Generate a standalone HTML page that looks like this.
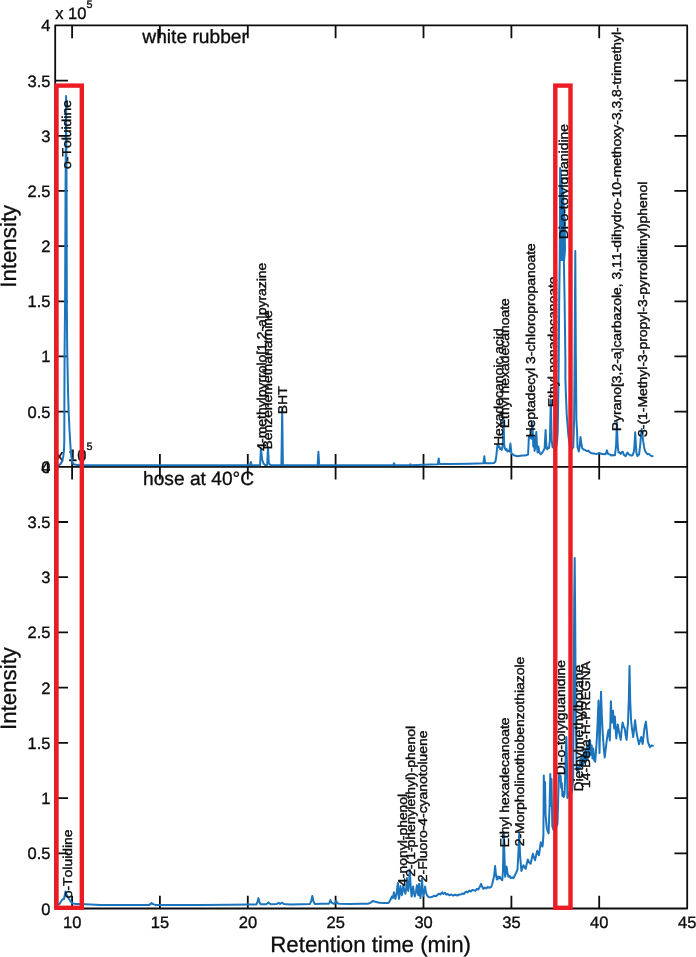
<!DOCTYPE html>
<html lang="en"><head><meta charset="utf-8"><title>Chromatograms: white rubber and hose at 40°C</title>
<style>
html,body{margin:0;padding:0;background:#fff}
body{width:696px;height:957px;overflow:hidden}
svg{display:block}
text{font-family:"Liberation Sans",Arial,Helvetica,sans-serif;fill:#0d0d0d;stroke:#0d0d0d;stroke-width:0.5px;font-kerning:none;text-rendering:geometricPrecision}
.ax{stroke:#0d0d0d;stroke-width:1.8;fill:none;stroke-linecap:butt;stroke-linejoin:round}
.tr{stroke:#1c75bc;stroke-width:2;fill:none;stroke-linejoin:round;stroke-linecap:round}
.bx{stroke:#ed1c24;stroke-width:4.4;fill:none;stroke-linejoin:miter}
.tk,.tk text{font-size:16.5px;stroke-width:0.35px}
.lb,.lb text{font-size:13.93px;stroke-width:0.45px}
.tt,.tt text{font-size:19.2px;stroke-width:0.35px}
.al,.al text{font-size:22.3px;stroke-width:0.3px}
</style></head><body>
<svg width="696" height="957" viewBox="0 0 696 957" role="img" aria-label="Chromatograms of white rubber and hose at 40°C">
<rect width="696" height="957" fill="#fff"/>
<g id="axes"><path class="ax" d="M55.2 25.4H687.2V908.5H55.2ZM55.2 466.8H687.2M72.1 25.4v12.8M72.1 454V479.6M72.1 908.5v-12.8M159.9 25.4v12.8M159.9 454V479.6M159.9 908.5v-12.8M247.8 25.4v12.8M247.8 454V479.6M247.8 908.5v-12.8M335.6 25.4v12.8M335.6 454V479.6M335.6 908.5v-12.8M423.5 25.4v12.8M423.5 454V479.6M423.5 908.5v-12.8M511.4 25.4v12.8M511.4 454V479.6M511.4 908.5v-12.8M599.2 25.4v12.8M599.2 454V479.6M599.2 908.5v-12.8M55.2 411.6h12.8M687.2 411.6h-12.8M55.2 356.4h12.8M687.2 356.4h-12.8M55.2 301.3h12.8M687.2 301.3h-12.8M55.2 246.1h12.8M687.2 246.1h-12.8M55.2 190.9h12.8M687.2 190.9h-12.8M55.2 135.8h12.8M687.2 135.8h-12.8M55.2 80.6h12.8M687.2 80.6h-12.8M55.2 853.3h12.8M687.2 853.3h-12.8M55.2 798.1h12.8M687.2 798.1h-12.8M55.2 742.9h12.8M687.2 742.9h-12.8M55.2 687.6h12.8M687.2 687.6h-12.8M55.2 632.4h12.8M687.2 632.4h-12.8M55.2 577.2h12.8M687.2 577.2h-12.8M55.2 522h12.8M687.2 522h-12.8"/></g>
<g id="yticks" class="tk" text-anchor="end">
<text x="50.4" y="472.8">0</text>
<text x="50.4" y="417.6">0.5</text>
<text x="50.4" y="362.4">1</text>
<text x="50.4" y="307.3">1.5</text>
<text x="50.4" y="252.1">2</text>
<text x="50.4" y="196.9">2.5</text>
<text x="50.4" y="141.8">3</text>
<text x="50.4" y="86.6">3.5</text>
<text x="50.4" y="31.4">4</text>
<text x="50.4" y="914.5">0</text>
<text x="50.4" y="859.3">0.5</text>
<text x="50.4" y="804.1">1</text>
<text x="50.4" y="748.9">1.5</text>
<text x="50.4" y="693.6">2</text>
<text x="50.4" y="638.4">2.5</text>
<text x="50.4" y="583.2">3</text>
<text x="50.4" y="528">3.5</text>
<text x="50.4" y="472.8">4</text>
</g>
<g id="xticks" class="tk" text-anchor="middle">
<text x="72.2" y="928.2">10</text>
<text x="160" y="928.2">15</text>
<text x="247.9" y="928.2">20</text>
<text x="335.8" y="928.2">25</text>
<text x="423.6" y="928.2">30</text>
<text x="511.5" y="928.2">35</text>
<text x="599.3" y="928.2">40</text>
<text x="687.3" y="928.2">45</text>
</g>
<text class="tk" x="55.2" y="19.4">x 10<tspan font-size="10.8px" dy="-11.3">5</tspan></text>
<text class="tk" x="55.2" y="461.2">x 10<tspan font-size="10.8px" dy="-11.3">5</tspan></text>
<text class="tt" x="142.3" y="43">white rubber</text>
<text class="tt" x="143" y="485">hose at 40°C</text>
<text class="al" text-anchor="middle" transform="translate(15.9 246.3) rotate(-90)">Intensity</text>
<text class="al" text-anchor="middle" transform="translate(15.9 688.5) rotate(-90)">Intensity</text>
<text class="al" text-anchor="middle" x="370.6" y="952.3">Retention time (min)</text>
<polyline id="trace-top" class="tr" points="57,465.2 59.5,464.8 61,463.5 62.2,461 63.3,456.5 64,450 64.3,440 64.4,400 64.6,350 65.1,300 65.5,200 66.1,96 66.6,200 66.8,300 67.2,350 68,390 68.6,410 69.5,430 70.5,447 71.3,456 72.2,462 74,464.6 80,465.2 250,465.2 250.8,461.9 251.6,465.2 260.1,465.2 260.9,448.3 261.6,455 262.3,460 263.5,463.5 265,464.9 267.2,464.9 268,447 268.8,463 269.8,464.6 271.5,465.2 281.4,465.2 282.2,409.3 282.9,465.2 317.6,465.2 318.4,451.7 319.2,465.2 393.2,465.2 394,463.2 394.8,465.2 409.7,465.2 410.5,464.2 411.3,465.2 423,464.7 437.9,464.2 438.7,458.5 439.5,464.1 450,464 470,463.7 483.5,463.3 484.3,456.3 485.1,463.2 491,463.2 494,463 495.4,461.5 496.2,457 496.9,450 497.5,444.8 498.3,447 499.2,446.2 500,449 500.9,448.2 501.6,450 502.2,448.3 502.8,445 503.5,418.5 504.2,445 504.8,447.8 505.6,450 506.5,449 507.4,451.5 508.3,450.5 509.4,451.5 510.4,443.5 511.4,453.4 512.6,454.2 513.9,455.2 517.3,456.2 522.5,455.4 525,455.6 528.1,454.5 528.9,436.2 529.8,437.9 530.7,434.5 531.5,438.8 532.4,421.5 533.3,446.5 533.9,437 534.6,450.9 535.5,446 536.3,431.9 537.1,448 537.6,452.6 538.4,446.5 539.3,452 540.6,454.3 542,453 543.4,450.7 544.6,448.5 545.6,430 546.5,448 547.3,449.3 548.2,447.5 549,448 549.9,440.3 550.8,400 551.7,440 552.5,447.2 554.5,448 556.5,446 557.2,440 557.7,431.7 558.5,380 558.7,360 559.2,300 559.7,262 559.9,240 560.1,168 560.4,259 560.8,172 561.2,260 561.6,180 562,260 562.4,187 562.8,260 563.2,192 563.6,260 564,206 564.4,258 564.7,218 565,250 563.9,262 564.6,300 565.4,360 565.4,380 566.7,414.5 568.4,436 570,446 572,449 573.3,447 574.1,420 574.7,350 575.3,251 575.8,350 576.4,420 577.1,432 577.5,447.2 578.8,451.5 579.7,446 580.5,436.9 581.3,443 582.2,448.1 583.5,449.6 584.8,449.8 586.5,451 588.3,450.7 590,452.4 591.7,453.3 594,453.5 596,454.1 599.4,453 601,453.8 602.9,453.9 605.5,454.3 606.3,452.5 607,450.4 607.6,452.5 608.1,453.9 609.8,454.4 611.5,455.6 613.3,455 615,455.2 616.1,445 616.9,422 617.7,446 618.6,452.6 619.6,452.4 620.6,453.9 621.7,452.2 622.7,451.7 624,455.2 625.7,456 626.6,454 627.5,452.6 629.2,454.7 630.9,455.6 632.6,455.2 633.9,451.7 634.5,445 635.2,432.3 635.9,445 636.5,453.4 637.6,456 639.1,454.3 640.4,443.1 641.1,434 641.7,428.9 642.4,434 643.2,441.4 644,446.5 644.7,450 646,452.6 647.7,454.3 649,453.9 650.7,455.6 652.5,456.2"/>
<polyline id="trace-bottom" class="tr" points="57,905 59.5,904 61,901.5 62.4,899.5 64,899 64.8,895 65.5,891.5 66.3,894 67.5,896.5 69,899 70.5,901.3 72.4,903.3 75,903.9 80.5,904.1 100.3,905 130.3,905 149.3,904.9 150.6,903.9 151.6,903.1 152.9,904.1 155.3,904.9 180.3,904.9 200.3,905 230.3,904.7 248.3,904.6 256.3,904.5 257.5,902 258.4,898.1 259.4,902 260.6,904.3 266.3,904.3 267.5,903.3 268.4,902.4 269.5,903.5 271.3,904.3 276.8,904.1 278.5,902.7 280.1,903.9 282.1,902.7 283.8,904.1 290.3,904.4 300.3,904.3 309.8,904.1 311.1,901.5 312.3,895.9 313.5,901.5 314.8,903.9 322.3,903.8 328.8,903.7 329.8,902 330.4,900 331.3,902.5 333.3,903.7 335.1,903.3 336.2,901 337.3,903.3 339.3,903.8 350.3,903.9 360.3,903.8 367.8,903.8 370.3,902.9 372.8,901 375.3,901.7 379.3,902.7 384.3,902.9 387.9,903.1 388.9,902.4 390.6,899.5 391.8,896.6 392.9,898 393.9,892.3 394.7,896.5 395.4,898.9 396.6,893.5 397.8,883 398.4,892.5 399,898.8 399.7,893.5 400.4,885.9 401.2,892.5 401.9,895.2 402.6,890.5 403.3,885.2 404.3,890.5 405.4,893.8 406.2,888.5 406.9,878 407.6,886.5 408.3,890.9 409.1,882.5 409.8,869.4 410.7,886.5 411.6,896.6 412.4,892.5 413.1,886.6 413.9,892.5 414.8,896.6 415.9,892.5 416.9,885.2 417.7,891.5 418.4,895.2 419.1,883.7 419.8,892.5 420.5,898.1 421.3,890.5 422,878.7 422.7,889.5 423.4,895.9 424.3,892.5 425.1,886.6 426,892.5 427,895.2 428.3,896.9 429.9,897.4 432.3,896.8 434.3,895.7 436.3,896.1 437.8,894.5 439.3,893.7 440.3,894.5 442.1,892.3 443.3,893.9 444.8,892.7 446.3,894.7 447.8,893.9 449.3,895.2 451.3,894.5 453.3,895.7 455.3,894.7 457.3,895.5 459.3,894.5 460.8,894.5 462.3,893.5 463.8,894.1 465.3,892.1 466.5,891.6 467.8,892.5 469.3,890.5 470.8,891.5 472.3,890.1 473.7,890.2 475.3,890.9 476.8,888.9 478.3,889.5 479.8,886.8 481.1,883.9 482.3,887 483.3,888.9 484.8,887.5 486.3,888.5 487.8,886.9 489.3,887.8 491.2,886.8 492.1,884.5 493.3,879.6 494.3,874.5 495.1,865.9 495.9,874.5 496.9,879.6 497.9,876.5 498.8,878.5 499.8,876.7 501,878.9 502.3,880.3 503,870.5 503.4,845.5 503.8,832.2 504.3,850.5 505.1,876.7 505.9,872.5 506.6,866.6 507.4,872.5 508.4,876.7 509.5,875.8 510.6,878.1 512.1,877.3 513.5,878.1 514.8,875.5 516.3,872.4 517.5,869.5 518.3,855.5 519.2,833.6 520.1,855.5 521.4,871 522.5,867.5 523.5,865.2 524.6,867.5 525.7,868.8 526.8,863.5 527.8,859.5 529.2,862.5 530.7,863.8 531.8,858.5 532.9,853.7 534,857.5 535,860.2 536.1,855.5 537.2,850.8 538.1,853.5 539,855.2 539.9,848.5 540.8,842.2 541.7,845 542.5,846.5 542.9,842.8 543.4,835.3 543.8,775.5 544.4,810 545,782 545.6,815 546.7,827.7 547.6,831 548.6,833.4 549.6,805 550.3,774.1 550.9,806 551.5,779 552.3,826 553.5,830 556,828 557.5,824 558.3,795 559,776 559.5,773.5 560.1,781 560.6,776 561.2,788 561.8,783 562.4,796 563.1,792 563.8,797 564.6,794 565.3,772 565.9,746 566.4,737 566.9,760 567.4,798 568.6,795.5 570,790.5 572,792.5 573.1,780 573.7,700 574.2,600 574.7,558 575.2,620 575.8,720 576.6,770 577.3,770.5 578.1,772.1 578.9,765.5 579.7,768.5 580.5,758.5 581.3,766.5 582.1,755.5 582.9,764.5 583.7,752.5 584.5,762.5 585.3,750.5 586.1,760.5 586.9,745.5 587.7,758.5 588.5,742.5 589.3,756.5 590.1,740.5 590.9,754.5 591.7,745.5 592.5,758.5 593.3,748.5 594.3,760.5 595.2,761.8 595.9,752.5 596.6,742.8 597.5,725.5 598.5,700.5 599.1,730.5 599.5,753.1 600.3,720.5 601,691.7 601.8,715.5 602.8,734.1 603.8,748.5 604.7,757.5 605.8,748.5 606.8,739.9 607.8,733.5 608.6,729.7 609.3,735.5 609.8,740.5 610.4,720.5 610.9,701.2 611.5,715.5 612,722.5 612.5,716.5 613,710.7 613.6,720.5 614.2,728.5 614.9,716.5 615.6,728.5 616.3,738.5 617.1,730.5 617.8,724.5 618.8,730.5 619.8,735.5 620.7,739.9 621.6,730.5 622.6,722.4 623.6,726.5 624.7,728.5 625.7,735.5 626.6,739.9 627.3,730.5 628,722.5 628.8,700.5 629.5,666.1 630.2,700.5 631,719.5 632.1,729.5 633.2,737 634.2,728.5 635.1,720.2 635.9,727.5 636.8,734.1 637.9,739.5 639,744.3 640.1,740.5 641.2,737 642,741.5 642.7,744 643.4,737.5 644.1,731.1 645,725.5 645.9,721.6 646.8,730.5 647.8,741.4 648.9,744.5 650,747.2 651.3,745.5 652.9,745.8"/>
<g id="labels" class="lb">
<text transform="translate(71.4 169) rotate(-90) scale(1 0.92)">o-Toluidine</text>
<text transform="translate(265.5 450.7) rotate(-90) scale(1 0.92)">4-methylpyrrolo[1,2-a]pyrazine</text>
<text transform="translate(272.3 449.6) rotate(-90) scale(1 0.92)">Benzenemethanamine</text>
<text transform="translate(287.1 414.2) rotate(-90) scale(1 0.92)">BHT</text>
<text transform="translate(503.2 446) rotate(-90) scale(1 0.92)">Hexadecanoic acid</text>
<text transform="translate(509 428.2) rotate(-90) scale(1 0.92)">Ethyl hexadecanoate</text>
<text transform="translate(535 437.5) rotate(-90) scale(1 0.92)">Heptadecyl 3-chloropropanoate</text>
<text transform="translate(556.7 407.2) rotate(-90) scale(1 0.92)">Ethyl nonadecanoate</text>
<text transform="translate(568 239.3) rotate(-90) scale(1 0.92)">Di-o-tolylguanidine</text>
<text transform="translate(621.4 431.2) rotate(-90) scale(1 0.92)">Pyrano[3,2-a]carbazole, 3,11-dihydro-10-methoxy-3,3,8-trimethyl-</text>
<text transform="translate(647 437) rotate(-90) scale(1 0.92)">3-(1-Methyl-3-propyl-3-pyrrolidinyl)phenol</text>
<text transform="translate(71.8 898.3) rotate(-90) scale(1 0.92)">o-Toluidine</text>
<text transform="translate(407.3 885.9) rotate(-90) scale(1 0.92)">4-nonyl-phenol</text>
<text transform="translate(414.5 876.8) rotate(-90) scale(1 0.92)">2-(1-phenylethyl)-phenol</text>
<text transform="translate(426.7 882.2) rotate(-90) scale(1 0.92)">2-Fluoro-4-cyanotoluene</text>
<text transform="translate(508.9 847.5) rotate(-90) scale(1 0.92)">Ethyl hexadecanoate</text>
<text transform="translate(524.3 846.3) rotate(-90) scale(1 0.92)">2-Morpholinothiobenzothiazole</text>
<text transform="translate(565 775.2) rotate(-90) scale(1 0.92)">Di-o-tolylguanidine</text>
<text transform="translate(582.6 791.6) rotate(-90) scale(1 0.92)">Diethylmethylborane</text>
<text transform="translate(590.2 788) rotate(-90) scale(1 0.92)">14-Beta-H-PREGNA</text>
</g>
<rect class="bx" x="56.5" y="85.6" width="25.3" height="822.2"/>
<rect class="bx" x="555.3" y="85.6" width="15.2" height="822.2"/>
</svg></body></html>
